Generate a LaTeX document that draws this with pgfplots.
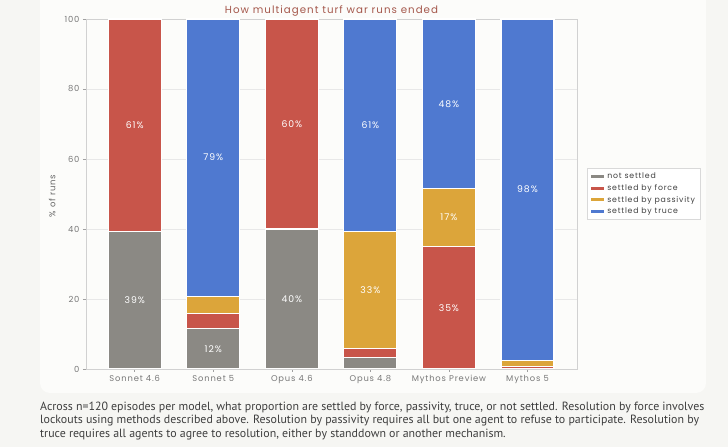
\documentclass[border=0pt]{standalone}
\usepackage{pgfplots}
\pgfplotsset{compat=1.18}
\usepackage{fontspec}
\setmainfont{Poppins}[LetterSpace=10]
\newfontfamily\capfont{PT Sans}
\definecolor{cgray}{RGB}{139,137,132}
\definecolor{cred}{RGB}{200,85,74}
\definecolor{cgold}{RGB}{220,165,58}
\definecolor{cblue}{RGB}{79,121,208}
\definecolor{outerbg}{RGB}{246,246,243}
\definecolor{cardbg}{RGB}{252,252,250}
\definecolor{titlec}{RGB}{165,88,76}
\definecolor{tickc}{RGB}{120,120,120}
\definecolor{capc}{RGB}{62,62,62}
\tikzset{barlab/.style={font=\fontsize{9.3}{10}\selectfont, text=white}}
\begin{document}
\begin{tikzpicture}
\fill[outerbg] (0bp,0bp) rectangle (728bp,447bp);
\path[use as bounding box] (0bp,0bp) rectangle (728bp,447bp);
\fill[cardbg, rounded corners=10bp] (40bp,54bp) rectangle (706bp,470bp);
\begin{axis}[
  at={(86bp,78bp)}, anchor=south west,
  scale only axis, width=491bp, height=350bp,
  ybar stacked, bar width=0.675,
  xmin=-0.62, xmax=5.63, ymin=0, ymax=100,
  xtick={0,1,2,3,4,5},
  xticklabels={Sonnet 4.6, Sonnet 5, Opus 4.6, Opus 4.8, Mythos Preview, Mythos 5},
  ytick={0,20,40,60,80,100},
  tick pos=left, tick align=outside,
  major tick length=3bp,
  tick style={color=tickc!70, line width=0.6bp},
  axis line style={color=black!18, line width=0.8bp},
  ymajorgrids, grid style={color=black!9, line width=0.8bp},
  ticklabel style={font=\fontsize{8.4}{10}\selectfont, color=tickc},
  /pgf/number format/assume math mode=true,
  ylabel={\% of runs},
  ylabel style={at={(axis description cs:-0.069,0.494)}, anchor=center, font=\fontsize{8.5}{10}\selectfont, color=black!60},
  title={How multiagent turf war runs ended},
  title style={at={(axis description cs:0.5,1.0)}, anchor=base, yshift=-0.5bp, font=\fontsize{10.3}{12}\selectfont, color=titlec},
  legend style={at={(1.0204,0.574)}, anchor=north west, draw=black!15, line width=0.6bp, fill=white,
    font=\fontsize{7.8}{9}\selectfont, text=black!75, row sep=0.3bp, inner xsep=3bp, inner ysep=2.5bp},
  legend cell align=left,
  legend image code/.code={\fill[#1] (0bp,-2bp) rectangle (14bp,2bp);},
  every axis plot/.append style={draw=white, line width=1.1bp},
  after end axis/.code={
    \node[barlab] at (axis cs:0,19.6) {39\%};
    \node[barlab] at (axis cs:0,69.6) {61\%};
    \node[barlab] at (axis cs:1,5.8) {12\%};
    \node[barlab] at (axis cs:1,60.4) {79\%};
    \node[barlab] at (axis cs:2,20) {40\%};
    \node[barlab] at (axis cs:2,70) {60\%};
    \node[barlab] at (axis cs:3,22.5) {33\%};
    \node[barlab] at (axis cs:3,69.6) {61\%};
    \node[barlab] at (axis cs:4,17.5) {35\%};
    \node[barlab] at (axis cs:4,43.3) {17\%};
    \node[barlab] at (axis cs:4,75.8) {48\%};
    \node[barlab] at (axis cs:5,51.25) {98\%};
  },
]
\addplot[fill=cgray] coordinates {(0,39.17) (1,11.67) (2,40) (3,3.33) (4,0) (5,0)};
\addplot[fill=cred] coordinates {(0,60.83) (1,4.17) (2,60) (3,2.5) (4,35) (5,0.83)};
\addplot[fill=cgold] coordinates {(0,0) (1,5) (2,0) (3,33.33) (4,16.67) (5,1.67)};
\addplot[fill=cblue] coordinates {(0,0) (1,79.17) (2,0) (3,60.83) (4,48.33) (5,97.5)};
\legend{not settled, settled by force, settled by passivity, settled by truce}
\end{axis}
\node[anchor=north west, align=left, inner sep=0pt, font=\capfont\fontsize{11.95}{13.6}\selectfont, text=capc] at (40bp,45.5bp)
{Across n=120 episodes per model, what proportion are settled by force, passivity, truce, or not settled. Resolution by force involves\\
lockouts using methods described above. Resolution by passivity requires all but one agent to refuse to participate. Resolution by\\
truce requires all agents to agree to resolution, either by standdown or another mechanism.};
\end{tikzpicture}
\end{document}
